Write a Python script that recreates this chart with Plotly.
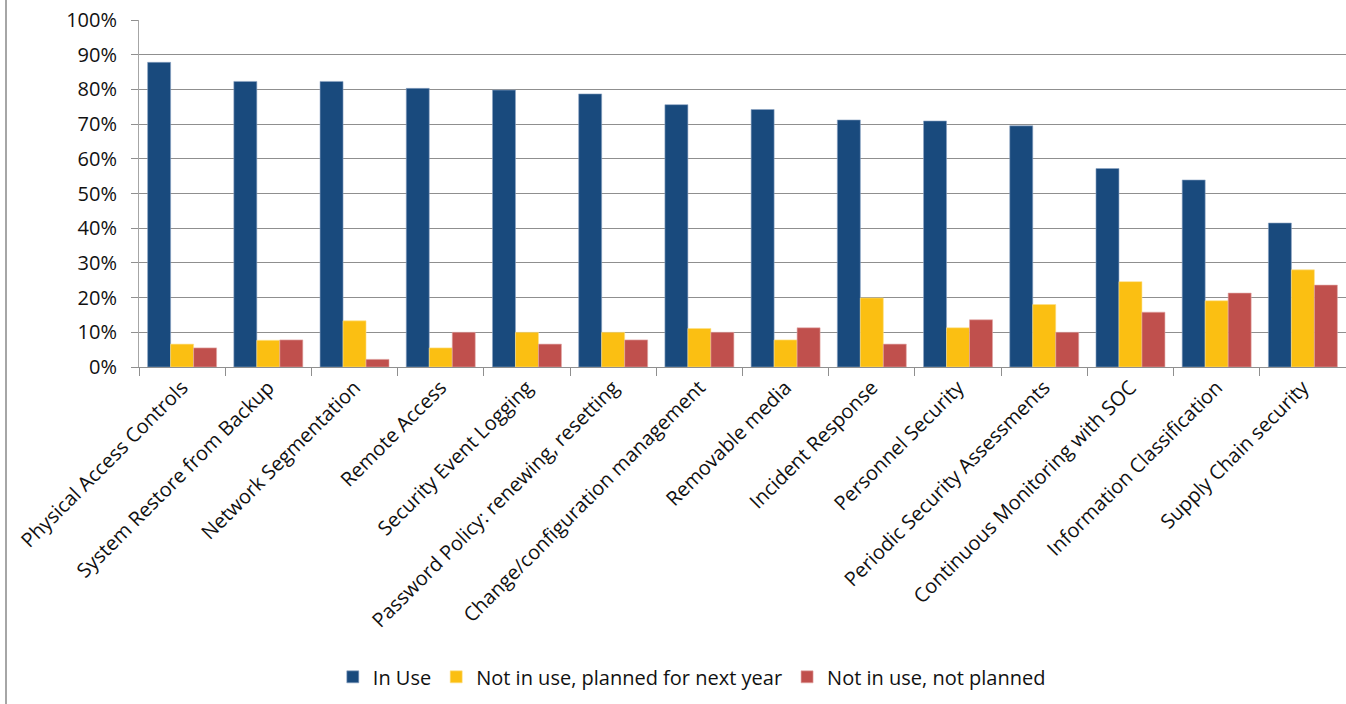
import plotly.graph_objects as go

categories = [
    "Physical Access Controls",
    "System Restore from Backup",
    "Network Segmentation",
    "Remote Access",
    "Security Event Logging",
    "Password Policy: renewing, resetting",
    "Change/configuration management",
    "Removable media",
    "Incident Response",
    "Personnel Security",
    "Periodic Security Assessments",
    "Continuous Monitoring with SOC",
    "Information Classification",
    "Supply Chain security",
]

in_use = [87.8, 82.3, 82.3, 80.3, 79.8, 78.7, 75.6, 74.2, 71.2, 70.9, 69.5, 57.2, 53.9, 41.5]
planned_next_year = [6.6, 7.7, 13.3, 5.5, 10.0, 10.0, 11.1, 7.8, 19.9, 11.3, 18.0, 24.6, 19.1, 28.0]
not_planned = [5.5, 7.8, 2.2, 10.0, 6.6, 7.8, 10.0, 11.3, 6.6, 13.6, 10.0, 15.8, 21.3, 23.6]

series_names = ["In Use", "Not in use, planned for next year", "Not in use, not planned"]
series_colors = ["#194A7D", "#FBBF12", "#C0504D"]
edge_colors = ["#8DA5C4", "#FDE08A", "#E3A8A6"]
y_ticks = list(range(0, 101, 10))

FONT = "Open Sans"
TEXT = "#111111"

fig = go.Figure()
for name, vals, col, edge in zip(series_names, [in_use, planned_next_year, not_planned],
                                 series_colors, edge_colors):
    fig.add_trace(go.Bar(
        x=categories, y=vals, name=name,
        marker=dict(color=col, line=dict(color=edge, width=0.6)),
    ))

fig.update_layout(
    width=1346, height=704,
    margin=dict(l=139, r=0, t=20, b=337),
    paper_bgcolor="white", plot_bgcolor="white",
    barmode="group", bargap=0.2, bargroupgap=0,
    font=dict(family=FONT, size=20, color=TEXT),
    showlegend=True,
    legend=dict(
        orientation="h", x=0.458, xanchor="center", y=-0.893, yanchor="middle",
        font=dict(family=FONT, size=20, color=TEXT),
        itemwidth=30, traceorder="normal",
    ),
)

fig.update_yaxes(
    range=[0, 100], tickvals=y_ticks, ticktext=[f"{v}%" for v in y_ticks],
    showgrid=True, gridcolor="#8f8f8f", gridwidth=1,
    showline=True, linecolor="#a6a6a6", linewidth=1,
    ticks="outside", ticklen=7, tickcolor="#8f8f8f",
    ticklabelstandoff=10,
    tickfont=dict(family=FONT, size=20, color=TEXT),
    zeroline=False,
)
fig.update_xaxes(
    tickangle=-45, tickson="boundaries",
    ticks="outside", ticklen=8, tickcolor="#8f8f8f",
    showline=True, linecolor="#8f8f8f", linewidth=1,
    tickfont=dict(family=FONT, size=20, color=TEXT),
)

# thin grey frame line along the left edge of the figure
plot_w = 1346 - 139
plot_h = 704 - 20 - 337
fig.add_shape(
    type="line", xref="paper", yref="paper",
    x0=(6 - 139) / plot_w, x1=(6 - 139) / plot_w,
    y0=-337 / plot_h, y1=1 + 20 / plot_h,
    line=dict(color="#a6a6a6", width=2),
)

fig.write_html("out.html")
